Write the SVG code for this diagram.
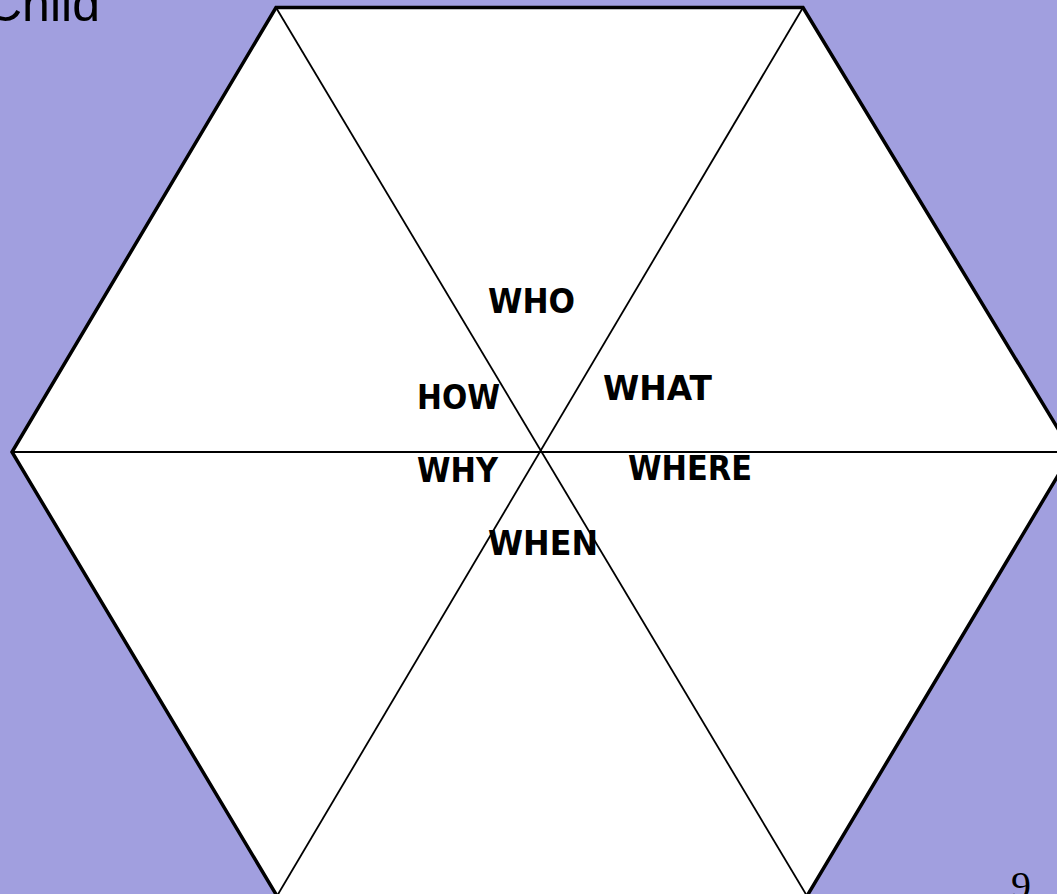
<svg xmlns="http://www.w3.org/2000/svg" width="1057" height="894" viewBox="0 0 1057 894">
  <style>
    .hex { fill: #ffffff; stroke: #000000; stroke-width: 3.5; stroke-linejoin: miter; }
    .div { stroke: #000000; stroke-width: 1.8; fill: none; }
    .lbl { font-family: "Comic Sans MS", "DejaVu Sans", sans-serif; font-weight: bold; font-size: 33px; fill: #000000; }
  </style>
  <rect x="0" y="0" width="1057" height="894" fill="#a19fdf"/>
  <text x="-14" y="21" font-family="Liberation Sans, Arial, sans-serif" font-size="50" fill="#000000">Child</text>
  <g id="hexagon">
    <polygon class="hex" points="276,7.5 803,7.5 1072,452 807,896 277,896 12,452"/>
  </g>
  <g id="connectors">
    <line class="div" x1="12" y1="452" x2="1072" y2="452"/>
    <line class="div" x1="276" y1="7.5" x2="807" y2="896"/>
    <line class="div" x1="803" y1="7.5" x2="277" y2="896"/>
  </g>
  <g id="who"><text class="lbl" x="488" y="313" textLength="87" lengthAdjust="spacingAndGlyphs">WHO</text></g>
  <g id="how"><text class="lbl" x="417" y="409" textLength="83" lengthAdjust="spacingAndGlyphs">HOW</text></g>
  <g id="what"><text class="lbl" x="603" y="400" textLength="109" lengthAdjust="spacingAndGlyphs">WHAT</text></g>
  <g id="why"><text class="lbl" x="417" y="482" textLength="81" lengthAdjust="spacingAndGlyphs">WHY</text></g>
  <g id="where"><text class="lbl" x="628" y="480" textLength="124" lengthAdjust="spacingAndGlyphs">WHERE</text></g>
  <g id="when"><text class="lbl" x="488" y="555" textLength="110" lengthAdjust="spacingAndGlyphs">WHEN</text></g>
  <text x="1011" y="899" font-family="Liberation Serif, 'Times New Roman', serif" font-size="40" fill="#000000">9</text>
</svg>
